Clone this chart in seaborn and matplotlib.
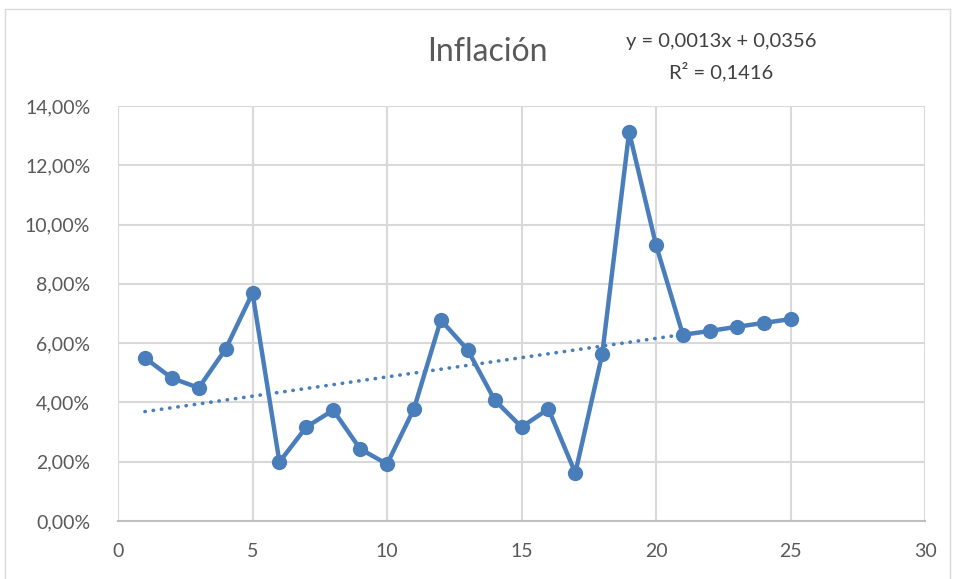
import numpy as np
import pandas as pd
import matplotlib.pyplot as plt
import seaborn as sns
from matplotlib.ticker import FuncFormatter

# data
periodo = list(range(1, 26))
inflacion = [0.0550, 0.0482, 0.0449, 0.0580, 0.0769, 0.0199, 0.0317, 0.0374, 0.0243, 0.0192,
             0.0378, 0.0678, 0.0577, 0.0408, 0.0317, 0.0378, 0.0162, 0.0563, 0.1312, 0.0931,
             0.0628, 0.0641, 0.0655, 0.0668, 0.0681]
trend_slope = 0.0013
trend_intercept = 0.0356
trend_x = [1, 21]

df = pd.DataFrame({'x': periodo, 'y': inflacion})
color = '#4A7EBB'

sns.set_style('white')
plt.rcParams['font.family'] = ['Lato', 'DejaVu Sans']

fig = plt.figure(figsize=(9.55, 5.79), dpi=100)
ax = fig.add_axes([0.1236, 0.1002, 0.845, 0.7168])

# trendline
tx = np.array(trend_x)
ax.plot(tx, trend_slope * tx + trend_intercept, linestyle=(0, (0.1, 2.2)),
        color=color, linewidth=2.6, dash_capstyle='round', zorder=2)

sns.lineplot(data=df, x='x', y='y', ax=ax, color=color, linewidth=3.2,
             marker='o', markersize=11, markeredgewidth=0, zorder=3)

ax.set_xlim(0, 30)
ax.set_ylim(0, 0.14)
ax.set_xticks(range(0, 31, 5))
ax.set_yticks(np.arange(0, 0.141, 0.02))
ax.yaxis.set_major_formatter(FuncFormatter(lambda v, p: f'{v*100:.2f}%'.replace('.', ',')))
ax.grid(True, color='#D9D9D9', linewidth=1.5)
ax.set_axisbelow(True)
for s in ['top', 'right', 'left']:
    ax.spines[s].set_visible(False)
ax.spines['bottom'].set_color('#BFBFBF')
ax.spines['bottom'].set_linewidth(1.5)
ax.tick_params(axis='both', length=0, labelsize=14, colors='#595959')
ax.tick_params(axis='x', pad=16)
ax.tick_params(axis='y', pad=20)
ax.set_xlabel('')
ax.set_ylabel('')

fig.text(0.510, 0.910, 'Inflación', ha='center', va='center', fontsize=23, color='#595959')
fig.text(0.755, 0.928, 'y = 0,0013x + 0,0356', ha='center', va='center', fontsize=14.5, color='#404040')
fig.text(0.755, 0.876, 'R² = 0,1416', ha='center', va='center', fontsize=14.5, color='#404040')

# chart border
border = plt.Rectangle((0.005, -0.01), 0.99, 0.995, transform=fig.transFigure,
                       fill=False, edgecolor='#D9D9D9', linewidth=1)
fig.patches.append(border)

fig.savefig('out.png', dpi=100)
